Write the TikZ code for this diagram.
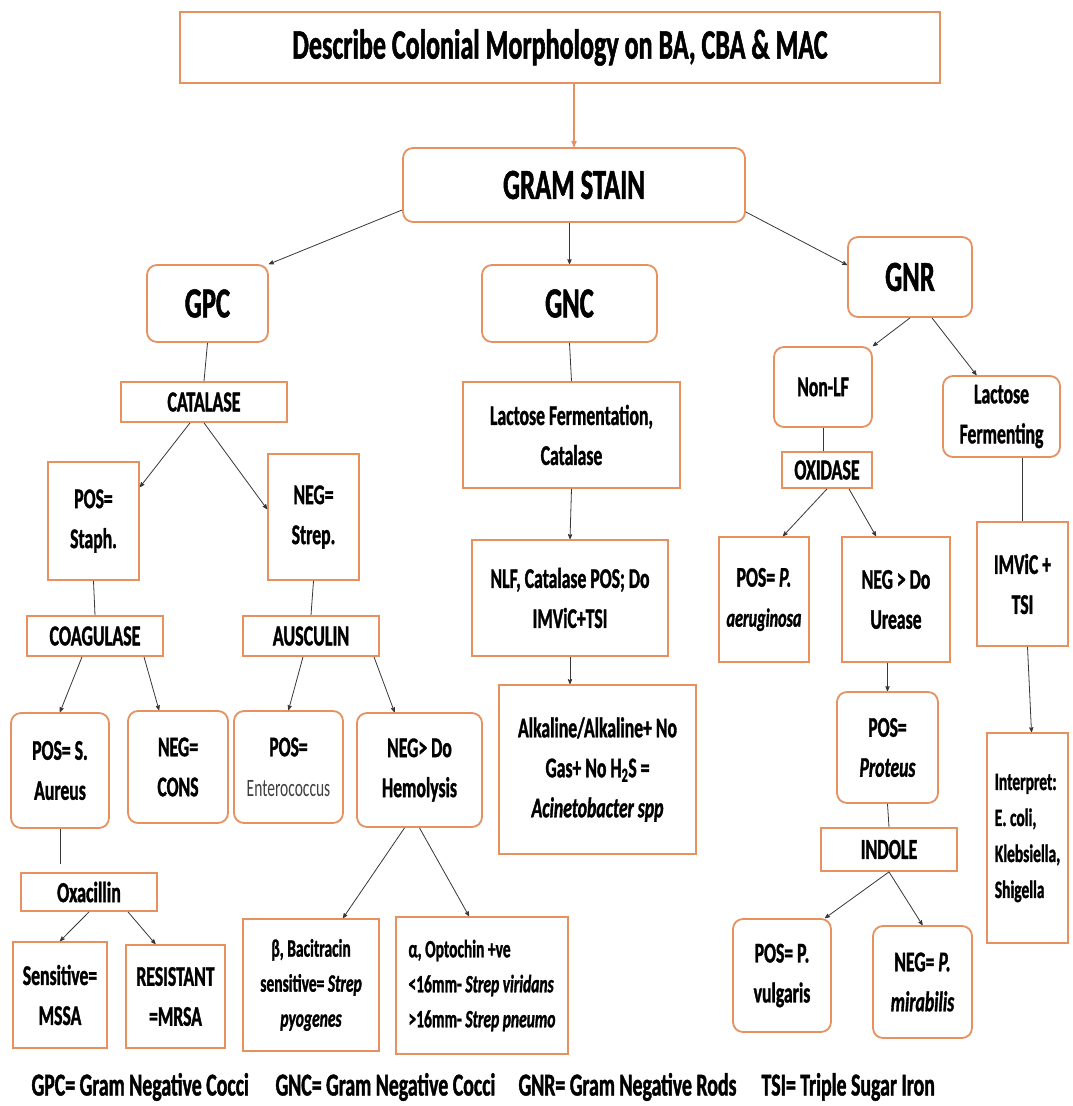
\documentclass[tikz,border=0pt]{standalone}
\usepackage{fontspec}
\setmainfont{Carlito}[FakeStretch=0.62,BoldFeatures={FakeBold=1.2},BoldItalicFeatures={FakeBold=1.2}]
\usetikzlibrary{arrows}
\definecolor{boxline}{RGB}{230,145,95}
\definecolor{linkline}{RGB}{55,55,55}
\newcommand\bigtxt{\fontsize{43}{50}\selectfont\bfseries}
\newcommand\headtxt{\fontsize{29}{40}\selectfont\bfseries}
\newcommand\midtxt{\fontsize{28.5}{40}\selectfont\bfseries}
\newcommand\smalltxt{\fontsize{25}{35}\selectfont\bfseries}
\newcommand\legtxt{\fontsize{32}{36}\selectfont\bfseries}

\begin{document}
\begin{tikzpicture}[x=1pt,y=-1pt,->,>=stealth',
    every edge/.style={draw=linkline,line width=0.8pt},
    box/.style={draw=boxline,line width=1.8pt,fill=white,align=center,inner sep=2pt},
    rbox/.style={box,rounded corners=10pt}]
  \fill[white] (0,0) rectangle (1072,1106);
  \useasboundingbox (0,0) rectangle (1072,1106);

  \node[box,minimum width=760,minimum height=71,font=\fontsize{42}{50}\selectfont\bfseries] (title) at (560,47.5) {Describe Colonial Morphology on BA, CBA \& MAC};
  \node[rbox,minimum width=342,minimum height=74,font=\bigtxt] (gram) at (574,185) {GRAM STAIN};
  \node[rbox,minimum width=121,minimum height=77,font=\bigtxt] (gpc) at (207.5,303.5) {GPC};
  \node[rbox,minimum width=175,minimum height=77,font=\bigtxt] (gnc) at (569.5,303.5) {GNC};
  \node[rbox,minimum width=124,minimum height=80,font=\bigtxt] (gnr) at (910,277) {GNR};

  \node[box,minimum width=166,minimum height=40,font=\headtxt] (catalase) at (204,402) {CATALASE};
  \node[box,minimum width=91,minimum height=118,font=\midtxt] (staph) at (93.5,521) {POS=\\Staph.};
  \node[box,minimum width=91,minimum height=126,font=\midtxt] (strep) at (313.5,517) {NEG=\\Strep.};
  \node[box,minimum width=136,minimum height=40,font=\headtxt] (coag) at (95,636) {COAGULASE};
  \node[box,minimum width=136,minimum height=40,font=\headtxt] (ausc) at (311,636) {AUSCULIN};
  \node[rbox,minimum width=98,minimum height=115,font=\midtxt] (aureus) at (60,770.5) {POS= S.\\Aureus};
  \node[rbox,minimum width=100,minimum height=112,font=\midtxt] (cons) at (178,767) {NEG=\\CONS};
  \node[rbox,minimum width=109,minimum height=112,font=\midtxt] (entero) at (288.5,767) {POS=\\{\fontsize{25}{40}\selectfont\mdseries\color{darkgray}Enterococcus}};
  \node[rbox,minimum width=125,minimum height=114,font=\midtxt] (hemo) at (419.5,770) {NEG> Do\\Hemolysis};
  \node[box,minimum width=136,minimum height=38,font=\headtxt] (oxa) at (89,892) {Oxacillin};
  \node[box,minimum width=94,minimum height=106,font=\midtxt] (mssa) at (60,995) {Sensitive=\\MSSA};
  \node[box,minimum width=99,minimum height=103,font=\midtxt] (mrsa) at (175.5,996.5) {RESISTANT\\=MRSA};
  \node[box,minimum width=136,minimum height=132,font=\smalltxt] (beta) at (311,985) {β, Bacitracin\\sensitive= \textit{Strep}\\\textit{pyogenes}};
  \node[box,minimum width=172,minimum height=137,font=\smalltxt,align=left] (alpha) at (482,985.5) {α, Optochin +ve\\<16mm- \textit{Strep viridans}\\>16mm- \textit{Strep pneumo}};

  \node[box,minimum width=217,minimum height=106,font=\midtxt] (lacf) at (571.5,435) {Lactose Fermentation,\\Catalase};
  \node[box,minimum width=196,minimum height=116,font=\midtxt] (nlf) at (570,598) {NLF, Catalase POS; Do\\IMViC+TSI};
  \node[box,minimum width=197,minimum height=169,font=\midtxt] (alk) at (597.5,769.5) {Alkaline/Alkaline+ No\\Gas+ No H\textsubscript{2}S =\\\textit{Acinetobacter spp}};

  \node[rbox,minimum width=98,minimum height=80,font=\midtxt] (nonlf) at (823,387) {Non-LF};
  \node[rbox,minimum width=117,minimum height=81,font=\midtxt] (lfer) at (1001.5,416.5) {Lactose\\Fermenting};
  \node[box,minimum width=90,minimum height=36,font=\headtxt] (oxid) at (827,470) {OXIDASE};
  \node[box,minimum width=90,minimum height=125,font=\midtxt] (aerug) at (764,599.5) {POS= \textit{P.}\\{\fontsize{26}{37}\selectfont\textit{aeruginosa}}};
  \node[box,minimum width=108,minimum height=125,font=\midtxt] (urease) at (896,599.5) {NEG > Do\\Urease};
  \node[box,minimum width=91,minimum height=124,font=\midtxt] (imvic) at (1022.5,584) {IMViC +\\TSI};
  \node[rbox,minimum width=101,minimum height=111,font=\midtxt] (proteus) at (887.5,747.5) {POS=\\\textit{Proteus}};
  \node[box,minimum width=136,minimum height=43,font=\headtxt] (indole) at (889,849.5) {INDOLE};
  \node[rbox,minimum width=98,minimum height=113,font=\midtxt] (vulg) at (782,975.5) {POS= P.\\vulgaris};
  \node[rbox,minimum width=99,minimum height=112,font=\midtxt] (mirab) at (922.5,982) {NEG= \textit{P.}\\\textit{mirabilis}};
  \node[box,minimum width=81,minimum height=210,font=\fontsize{25}{36}\selectfont\bfseries,align=left,inner sep=1pt] (interp) at (1027.5,838) {Interpret:\\E. coli,\\Klebsiella,\\Shigella};

  \node[anchor=west,font=\legtxt] (keygpc) at (28,1087) {GPC= Gram Negative Cocci};
  \node[anchor=west,font=\legtxt] (keygnc) at (272,1087) {GNC= Gram Negative Cocci};
  \node[anchor=west,font=\legtxt] (keygnr) at (515,1087) {GNR= Gram Negative Rods};
  \node[anchor=west,font=\legtxt] (keytsi) at (758,1087) {TSI= Triple Sugar Iron};

  \path (title.south -| gram.north) edge[draw=boxline,line width=1.2pt] (gram.north)
    ([yshift=-25]gram.west) edge (gpc.north east)
    (gram.south -| gnc.north) edge (gnc.north)
    ([yshift=-27]gram.east) edge ([yshift=12]gnr.west);

  \path (gpc.south) edge[-] (catalase.north)
    ([xshift=-14]catalase.south) edge ([yshift=-26]staph.north east)
    (catalase.south) edge ([yshift=-56]strep.north west)
    (staph.south) edge[-] (coag.north)
    (strep.south) edge[-] (ausc.north)
    ([xshift=-13]coag.south) edge (aureus.north)
    ([xshift=49]coag.south) edge ([xshift=-19]cons.north)
    ([xshift=-8]ausc.south) edge (entero.north)
    ([xshift=63]ausc.south) edge ([xshift=-25]hemo.north)
    (aureus.south) edge[-,shorten >=8pt] (aureus.south |- oxa.north)
    (oxa.south) edge (mssa.north)
    ([xshift=39]oxa.south) edge ([xshift=-20]mrsa.north)
    ([xshift=-15]hemo.south) edge ([xshift=32]beta.north)
    (hemo.south) edge ([xshift=-13]alpha.north);

  \path (gnc.south) edge[-] (lacf.north)
    (lacf.south) edge (nlf.north)
    (nlf.south) edge (nlf.south |- alk.north);

  \path (gnr.south) edge (nonlf.north east)
    ([xshift=22]gnr.south) edge ([xshift=-25]lfer.north)
    (nonlf.south) edge[-] (oxid.north -| nonlf.south)
    (oxid.south) edge ([xshift=19]aerug.north)
    ([xshift=22]oxid.south) edge ([xshift=-20]urease.north)
    (lfer.south -| imvic.north) edge[-] (imvic.north)
    (urease.south -| proteus.north) edge (proteus.north)
    ([xshift=5]imvic.south) edge ([xshift=4]interp.north)
    (proteus.south) edge[-] (indole.north)
    (indole.south) edge ([xshift=43]vulg.north)
    (indole.south) edge (mirab.north);
\end{tikzpicture}
\end{document}
